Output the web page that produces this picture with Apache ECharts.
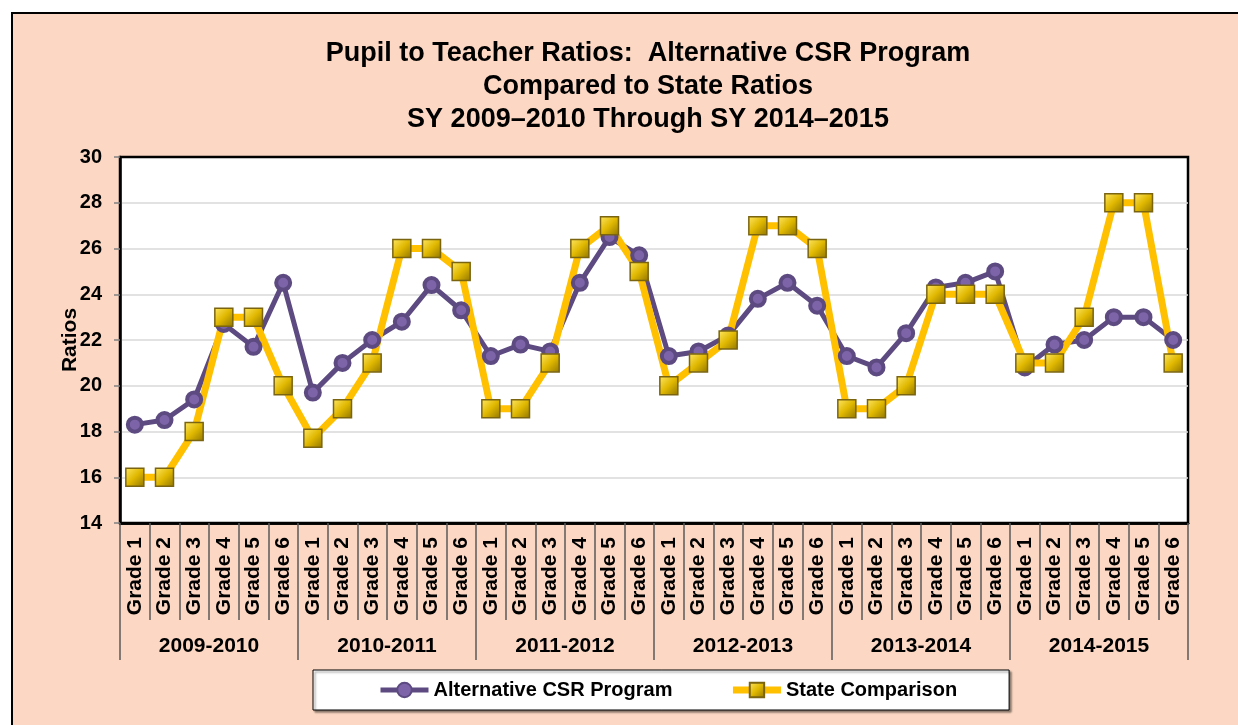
<!DOCTYPE html>
<html>
<head>
<meta charset="utf-8">
<title>Pupil to Teacher Ratios</title>
<script src="https://cdn.jsdelivr.net/npm/echarts@6/dist/echarts.min.js"></script>
<style>
	body{margin:0;background:#fff;overflow:hidden;}
	#frame{position:absolute;left:11px;top:12px;width:1260px;height:720px;border-left:2px solid #000;border-top:2px solid #000;background:#FCD8C4;}
	#div_lineMap{position:absolute;left:0;top:0;width:1270px;height:720px;}
</style>
</head>
<body>
<div id="frame"><div id="div_lineMap"></div></div>
<script>
var years = ['2009-2010','2010-2011','2011-2012','2012-2013','2013-2014','2014-2015'];
var grades = ['Grade 1','Grade 2','Grade 3','Grade 4','Grade 5','Grade 6'];
// Alternative CSR Program, by year then grade
var csrRatios = [
	18.3, 18.5, 19.4, 22.7, 21.7, 24.5,
	19.7, 21.0, 22.0, 22.8, 24.4, 23.3,
	21.3, 21.8, 21.5, 24.5, 26.5, 25.7,
	21.3, 21.5, 22.2, 23.8, 24.5, 23.5,
	21.3, 20.8, 22.3, 24.3, 24.5, 25.0,
	20.8, 21.8, 22.0, 23.0, 23.0, 22.0
];
// State Comparison
var stateRatios = [
	16, 16, 18, 23, 23, 20,
	17.7, 19, 21, 26, 26, 25,
	19, 19, 21, 26, 27, 25,
	20, 21, 22, 27, 27, 26,
	19, 19, 20, 24, 24, 24,
	21, 21, 23, 28, 28, 21
];
var yMin = 14, yMax = 30, yStep = 2;

var font = 'Liberation Sans, Arial, sans-serif';

function lineMap(){
	var x = [];
	for (var i = 0; i < years.length; i++) {
		for (var j = 0; j < grades.length; j++) {
			x.push(grades[j]);
		}
	}
	var option = {
		animation: false,
		title: {
			text: 'Pupil to Teacher Ratios:  Alternative CSR Program\nCompared to State Ratios\nSY 2009\u20132010 Through SY 2014\u20132015',
			left: 'center',
			top: 18,
			textStyle: {fontFamily: font, fontSize: 27, fontWeight: 'bold', color: '#000', lineHeight: 33}
		},
		legend: {
			left: 300,
			top: 656,
			padding: [10, 52, 10, 65],
			itemGap: 57,
			itemWidth: 48,
			itemHeight: 18,
			backgroundColor: '#fff',
			borderColor: '#000',
			borderWidth: 1,
			shadowColor: 'rgba(0,0,0,0.45)',
			shadowBlur: 2,
			shadowOffsetX: 2,
			shadowOffsetY: 2,
			textStyle: {fontFamily: font, fontSize: 20, fontWeight: 'bold', color: '#000'},
			data: [
				{name: 'Alternative CSR Program', lineStyle: {width: 5}},
				{name: 'State Comparison', lineStyle: {width: 7}}
			]
		},
		grid: {
			left: 107,
			top: 143,
			width: 1068,
			height: 366,
			show: true,
			backgroundColor: '#fff',
			borderColor: '#000',
			borderWidth: 2.5
		},
		xAxis: [
			{
				type: 'category',
				data: x,
				boundaryGap: true,
				axisLine: {show: true, lineStyle: {color: '#000', width: 2.5}},
				axisTick: {show: true, interval: 0, length: 97, lineStyle: {color: '#595959', width: 1.5}},
				axisLabel: {interval: 0, rotate: 90, margin: 14, fontFamily: font, fontSize: 21, fontWeight: 'bold', color: '#000'}
			},
			{
				type: 'category',
				data: years,
				position: 'bottom',
				boundaryGap: true,
				axisLine: {show: true, lineStyle: {color: '#000', width: 2.5}},
				axisTick: {show: true, interval: 0, length: 137, lineStyle: {color: '#595959', width: 1.5}},
				axisLabel: {interval: 0, margin: 113, fontFamily: font, fontSize: 21, fontWeight: 'bold', color: '#000'}
			}
		],
		yAxis: {
			type: 'value',
			min: yMin,
			max: yMax,
			interval: yStep,
			name: 'Ratios',
			nameLocation: 'middle',
			nameGap: 39,
			nameMoveOverlap: false,
			nameTextStyle: {fontFamily: font, fontSize: 21, fontWeight: 'bold', color: '#000'},
			axisLine: {show: true, lineStyle: {color: '#000', width: 2.5}},
			axisTick: {show: true, length: 6, lineStyle: {color: '#808080', width: 1.5}},
			axisLabel: {margin: 18, fontFamily: font, fontSize: 20, fontWeight: 'bold', color: '#000'},
			splitLine: {showMinLine: false, showMaxLine: false, lineStyle: {color: '#D9D9D9', width: 1.5}}
		},
		series: [
			{
				name: 'Alternative CSR Program',
				type: 'line',
				data: csrRatios,
				symbol: 'circle',
				symbolSize: 14,
				showAllSymbol: true,
				lineStyle: {color: '#5C4A80', width: 5},
				itemStyle: {color: '#7D64A9', borderColor: '#5C4A80', borderWidth: 4}
			},
			{
				name: 'State Comparison',
				type: 'line',
				data: stateRatios,
				symbol: 'rect',
				symbolSize: 18,
				showAllSymbol: true,
				lineStyle: {color: '#FFC000', width: 7},
				itemStyle: {
					color: new echarts.graphic.LinearGradient(0, 0, 1, 1, [
						{offset: 0, color: '#FFE866'},
						{offset: 0.5, color: '#E0B800'},
						{offset: 1, color: '#8F7400'}
					]),
					borderColor: '#7A6410',
					borderWidth: 1.5
				}
			}
		]
	};
	var myChart = echarts.init(document.getElementById('div_lineMap'));
	myChart.setOption(option);
}

lineMap();
</script>
</body>
</html>
